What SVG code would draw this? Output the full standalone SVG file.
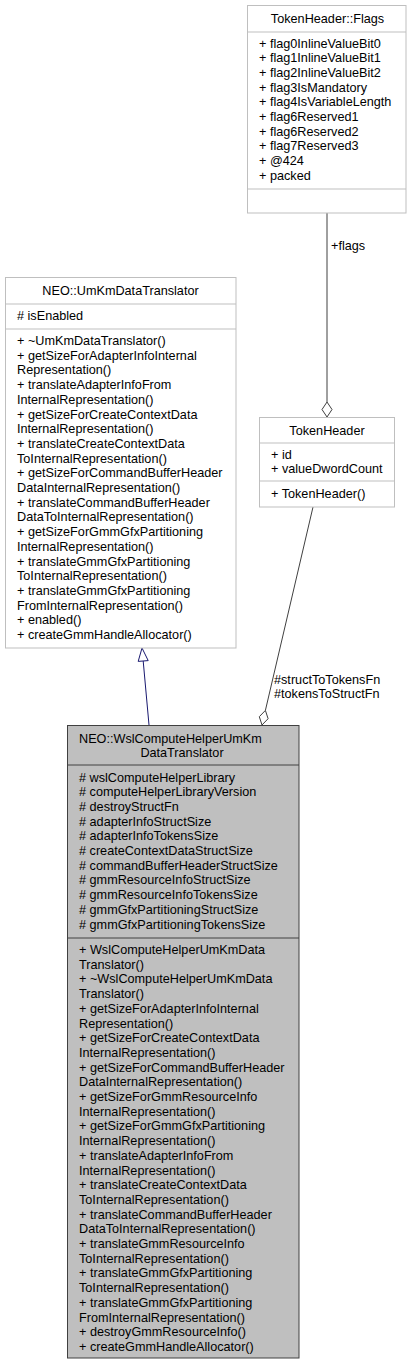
<svg xmlns="http://www.w3.org/2000/svg" width="412" height="1365" viewBox="0 0 412 1365">
<style>
text{font-family:"Liberation Sans",Arial,Helvetica,sans-serif;font-size:12.67px;fill:#000}
.c{text-anchor:middle}
.box{fill:#fff;stroke:#bfbfbf;stroke-width:1}
.sep{stroke:#bfbfbf;stroke-width:1}
.mbox{fill:#bfbfbf;stroke:#404040;stroke-width:1}
.msep{stroke:#404040;stroke-width:1}
.agg{stroke:#404040;stroke-width:1;fill:none}
.aggh{stroke:#404040;stroke-width:1;fill:#fff}
.inh{stroke:#191970;stroke-width:1;fill:none}
.inhh{stroke:#191970;stroke-width:1;fill:#fff}
</style>
<rect width="412" height="1365" fill="#fff"/>
<g id="connectors">
<line class="agg" x1="327" y1="213" x2="327" y2="402"/>
<polygon class="aggh" points="327,402 332,409.5 327,417 322,409.5"/>
<text x="331" y="250">+flags</text>
<line class="agg" x1="313" y1="507" x2="265.4" y2="710.4"/>
<polygon class="aggh" points="265.4,710.4 268.1,718.7 262,725 259.3,716.7"/>
<text x="274" y="683.5">#structToTokensFn</text>
<text x="274" y="698">#tokensToStructFn</text>
<line class="inh" x1="149" y1="725" x2="143.2" y2="661"/>
<polygon class="inhh" points="142,648 148.2,660.6 138.2,661.4"/>
</g>
<g id="flags">
<rect class="box" x="247.5" y="5.5" width="158.5" height="207.5"/>
<line class="sep" x1="247.5" y1="32" x2="406" y2="32"/>
<line class="sep" x1="247.5" y1="189" x2="406" y2="189"/>
<text class="c" x="327.5" y="23">TokenHeader::Flags</text>
<text x="259" y="47.5">+ flag0InlineValueBit0</text>
<text x="259" y="62.2">+ flag1InlineValueBit1</text>
<text x="259" y="76.9">+ flag2InlineValueBit2</text>
<text x="259" y="91.6">+ flag3IsMandatory</text>
<text x="259" y="106.3">+ flag4IsVariableLength</text>
<text x="259" y="121">+ flag6Reserved1</text>
<text x="259" y="135.7">+ flag6Reserved2</text>
<text x="259" y="150.4">+ flag7Reserved3</text>
<text x="259" y="165.1">+ @424</text>
<text x="259" y="179.8">+ packed</text>
</g>
<g id="tokenheader">
<rect class="box" x="259.5" y="417.5" width="135" height="89.5"/>
<line class="sep" x1="259.5" y1="443" x2="394.5" y2="443"/>
<line class="sep" x1="259.5" y1="481" x2="394.5" y2="481"/>
<text class="c" x="327" y="434.5">TokenHeader</text>
<text x="271" y="458.5">+ id</text>
<text x="271" y="473.2">+ valueDwordCount</text>
<text x="271" y="497.5">+ TokenHeader()</text>
</g>
<g id="umkm">
<rect class="box" x="5.5" y="277.5" width="230.5" height="370.5"/>
<line class="sep" x1="5.5" y1="304" x2="236" y2="304"/>
<line class="sep" x1="5.5" y1="329" x2="236" y2="329"/>
<text class="c" x="120.5" y="295">NEO::UmKmDataTranslator</text>
<text x="17" y="319.5"># isEnabled</text>
<text x="17" y="345">+ ~UmKmDataTranslator()</text>
<text x="17" y="359.7">+ getSizeForAdapterInfoInternal</text>
<text x="17" y="374.4">Representation()</text>
<text x="17" y="389.1">+ translateAdapterInfoFrom</text>
<text x="17" y="403.8">InternalRepresentation()</text>
<text x="17" y="418.5">+ getSizeForCreateContextData</text>
<text x="17" y="433.2">InternalRepresentation()</text>
<text x="17" y="447.9">+ translateCreateContextData</text>
<text x="17" y="462.6">ToInternalRepresentation()</text>
<text x="17" y="477.3">+ getSizeForCommandBufferHeader</text>
<text x="17" y="492">DataInternalRepresentation()</text>
<text x="17" y="506.7">+ translateCommandBufferHeader</text>
<text x="17" y="521.4">DataToInternalRepresentation()</text>
<text x="17" y="536.1">+ getSizeForGmmGfxPartitioning</text>
<text x="17" y="550.8">InternalRepresentation()</text>
<text x="17" y="565.5">+ translateGmmGfxPartitioning</text>
<text x="17" y="580.2">ToInternalRepresentation()</text>
<text x="17" y="594.9">+ translateGmmGfxPartitioning</text>
<text x="17" y="609.6">FromInternalRepresentation()</text>
<text x="17" y="624.3">+ enabled()</text>
<text x="17" y="639">+ createGmmHandleAllocator()</text>
</g>
<g id="wsl">
<rect class="mbox" x="67.5" y="725.5" width="231.5" height="632.5"/>
<line class="msep" x1="67.5" y1="765" x2="299" y2="765"/>
<line class="msep" x1="67.5" y1="938" x2="299" y2="938"/>
<text x="79" y="742.5">NEO::WslComputeHelperUmKm</text>
<text class="c" x="182" y="757.2">DataTranslator</text>
<text x="79" y="781.5"># wslComputeHelperLibrary</text>
<text x="79" y="796.2"># computeHelperLibraryVersion</text>
<text x="79" y="810.9"># destroyStructFn</text>
<text x="79" y="825.6"># adapterInfoStructSize</text>
<text x="79" y="840.3"># adapterInfoTokensSize</text>
<text x="79" y="855"># createContextDataStructSize</text>
<text x="79" y="869.7"># commandBufferHeaderStructSize</text>
<text x="79" y="884.4"># gmmResourceInfoStructSize</text>
<text x="79" y="899.1"># gmmResourceInfoTokensSize</text>
<text x="79" y="913.8"># gmmGfxPartitioningStructSize</text>
<text x="79" y="928.5"># gmmGfxPartitioningTokensSize</text>
<text x="79" y="954">+ WslComputeHelperUmKmData</text>
<text x="79" y="968.7">Translator()</text>
<text x="79" y="983.4">+ ~WslComputeHelperUmKmData</text>
<text x="79" y="998.1">Translator()</text>
<text x="79" y="1012.8">+ getSizeForAdapterInfoInternal</text>
<text x="79" y="1027.5">Representation()</text>
<text x="79" y="1042.2">+ getSizeForCreateContextData</text>
<text x="79" y="1056.9">InternalRepresentation()</text>
<text x="79" y="1071.6">+ getSizeForCommandBufferHeader</text>
<text x="79" y="1086.3">DataInternalRepresentation()</text>
<text x="79" y="1101">+ getSizeForGmmResourceInfo</text>
<text x="79" y="1115.7">InternalRepresentation()</text>
<text x="79" y="1130.4">+ getSizeForGmmGfxPartitioning</text>
<text x="79" y="1145.1">InternalRepresentation()</text>
<text x="79" y="1159.8">+ translateAdapterInfoFrom</text>
<text x="79" y="1174.5">InternalRepresentation()</text>
<text x="79" y="1189.2">+ translateCreateContextData</text>
<text x="79" y="1203.9">ToInternalRepresentation()</text>
<text x="79" y="1218.6">+ translateCommandBufferHeader</text>
<text x="79" y="1233.3">DataToInternalRepresentation()</text>
<text x="79" y="1248">+ translateGmmResourceInfo</text>
<text x="79" y="1262.7">ToInternalRepresentation()</text>
<text x="79" y="1277.4">+ translateGmmGfxPartitioning</text>
<text x="79" y="1292.1">ToInternalRepresentation()</text>
<text x="79" y="1306.8">+ translateGmmGfxPartitioning</text>
<text x="79" y="1321.5">FromInternalRepresentation()</text>
<text x="79" y="1336.2">+ destroyGmmResourceInfo()</text>
<text x="79" y="1350.9">+ createGmmHandleAllocator()</text>
</g>
</svg>
